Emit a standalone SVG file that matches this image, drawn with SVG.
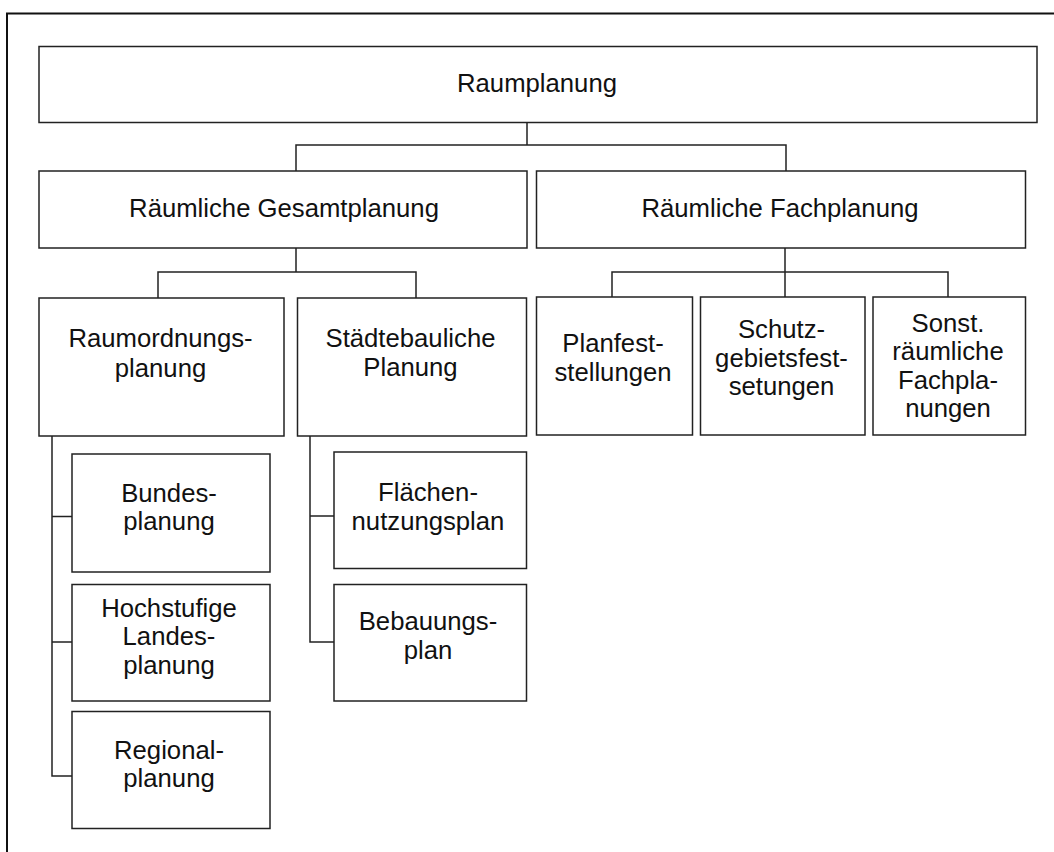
<svg xmlns="http://www.w3.org/2000/svg" width="1054" height="852" viewBox="0 0 1054 852">
<style>
.box{fill:#fff;stroke:#222;stroke-width:1.5}
.frame{fill:none;stroke:#111;stroke-width:2}
.con{fill:none;stroke:#222;stroke-width:1.5}
text{font-family:"Liberation Sans",Arial,sans-serif;font-size:25.7px;fill:#111;text-anchor:middle}
</style>
<rect width="1054" height="852" fill="#fff"/>
<path class="frame" d="M7,852 V13.5 H1054"/>
<g id="connectors">
<path class="con" d="M527,122.5 V145 M296,171 V145 H786 V171"/>
<path class="con" d="M296,248 V272 M158,298 V272 H416 V298"/>
<path class="con" d="M785,248 V272 M612,297 V272 H948 V297 M785,272 V297"/>
<path class="con" d="M52,436 V776 H72 M52,516.5 H72 M52,642 H72"/>
<path class="con" d="M310,436 V642 H334 M310,516 H334"/>
</g>
<g id="raumplanung"><rect class="box" x="39" y="46.5" width="998" height="76"/><text x="537" y="92">Raumplanung</text></g>
<g id="gesamtplanung"><rect class="box" x="39" y="171" width="488" height="77"/><text x="284" y="216.5">Räumliche Gesamtplanung</text></g>
<g id="fachplanung"><rect class="box" x="536.5" y="171" width="489" height="77"/><text x="780" y="216.5">Räumliche Fachplanung</text></g>
<g id="raumordnung"><rect class="box" x="39" y="298" width="245" height="138"/><text x="160.5" y="347">Raumordnungs-</text><text x="160.5" y="376.5">planung</text></g>
<g id="staedtebau"><rect class="box" x="297.5" y="298" width="229" height="138"/><text x="410.5" y="346.5">Städtebauliche</text><text x="410.5" y="375.5">Planung</text></g>
<g id="planfest"><rect class="box" x="536.5" y="297" width="156" height="138"/><text x="613" y="352">Planfest-</text><text x="613" y="380.5">stellungen</text></g>
<g id="schutz"><rect class="box" x="700.5" y="297" width="164.5" height="138"/><text x="781.5" y="337.5">Schutz-</text><text x="781.5" y="366.5">gebietsfest-</text><text x="781.5" y="395">setungen</text></g>
<g id="sonst"><rect class="box" x="873" y="297" width="152.5" height="138"/><text x="948" y="331.5">Sonst.</text><text x="948" y="360">räumliche</text><text x="948" y="388.5">Fachpla-</text><text x="948" y="417">nungen</text></g>
<g id="bundes"><rect class="box" x="72" y="454" width="198" height="118"/><text x="169" y="501.5">Bundes-</text><text x="169" y="530">planung</text></g>
<g id="landes"><rect class="box" x="72" y="584.5" width="198" height="116.5"/><text x="169" y="616.5">Hochstufige</text><text x="169" y="645">Landes-</text><text x="169" y="673.5">planung</text></g>
<g id="regional"><rect class="box" x="72" y="711.5" width="198" height="117"/><text x="169" y="758.5">Regional-</text><text x="169" y="787">planung</text></g>
<g id="flaechen"><rect class="box" x="334" y="452" width="192.5" height="116.5"/><text x="428" y="501">Flächen-</text><text x="428" y="529.5">nutzungsplan</text></g>
<g id="bebauung"><rect class="box" x="334" y="584.5" width="192.5" height="116.5"/><text x="428" y="630">Bebauungs-</text><text x="428" y="659">plan</text></g>
</svg>
